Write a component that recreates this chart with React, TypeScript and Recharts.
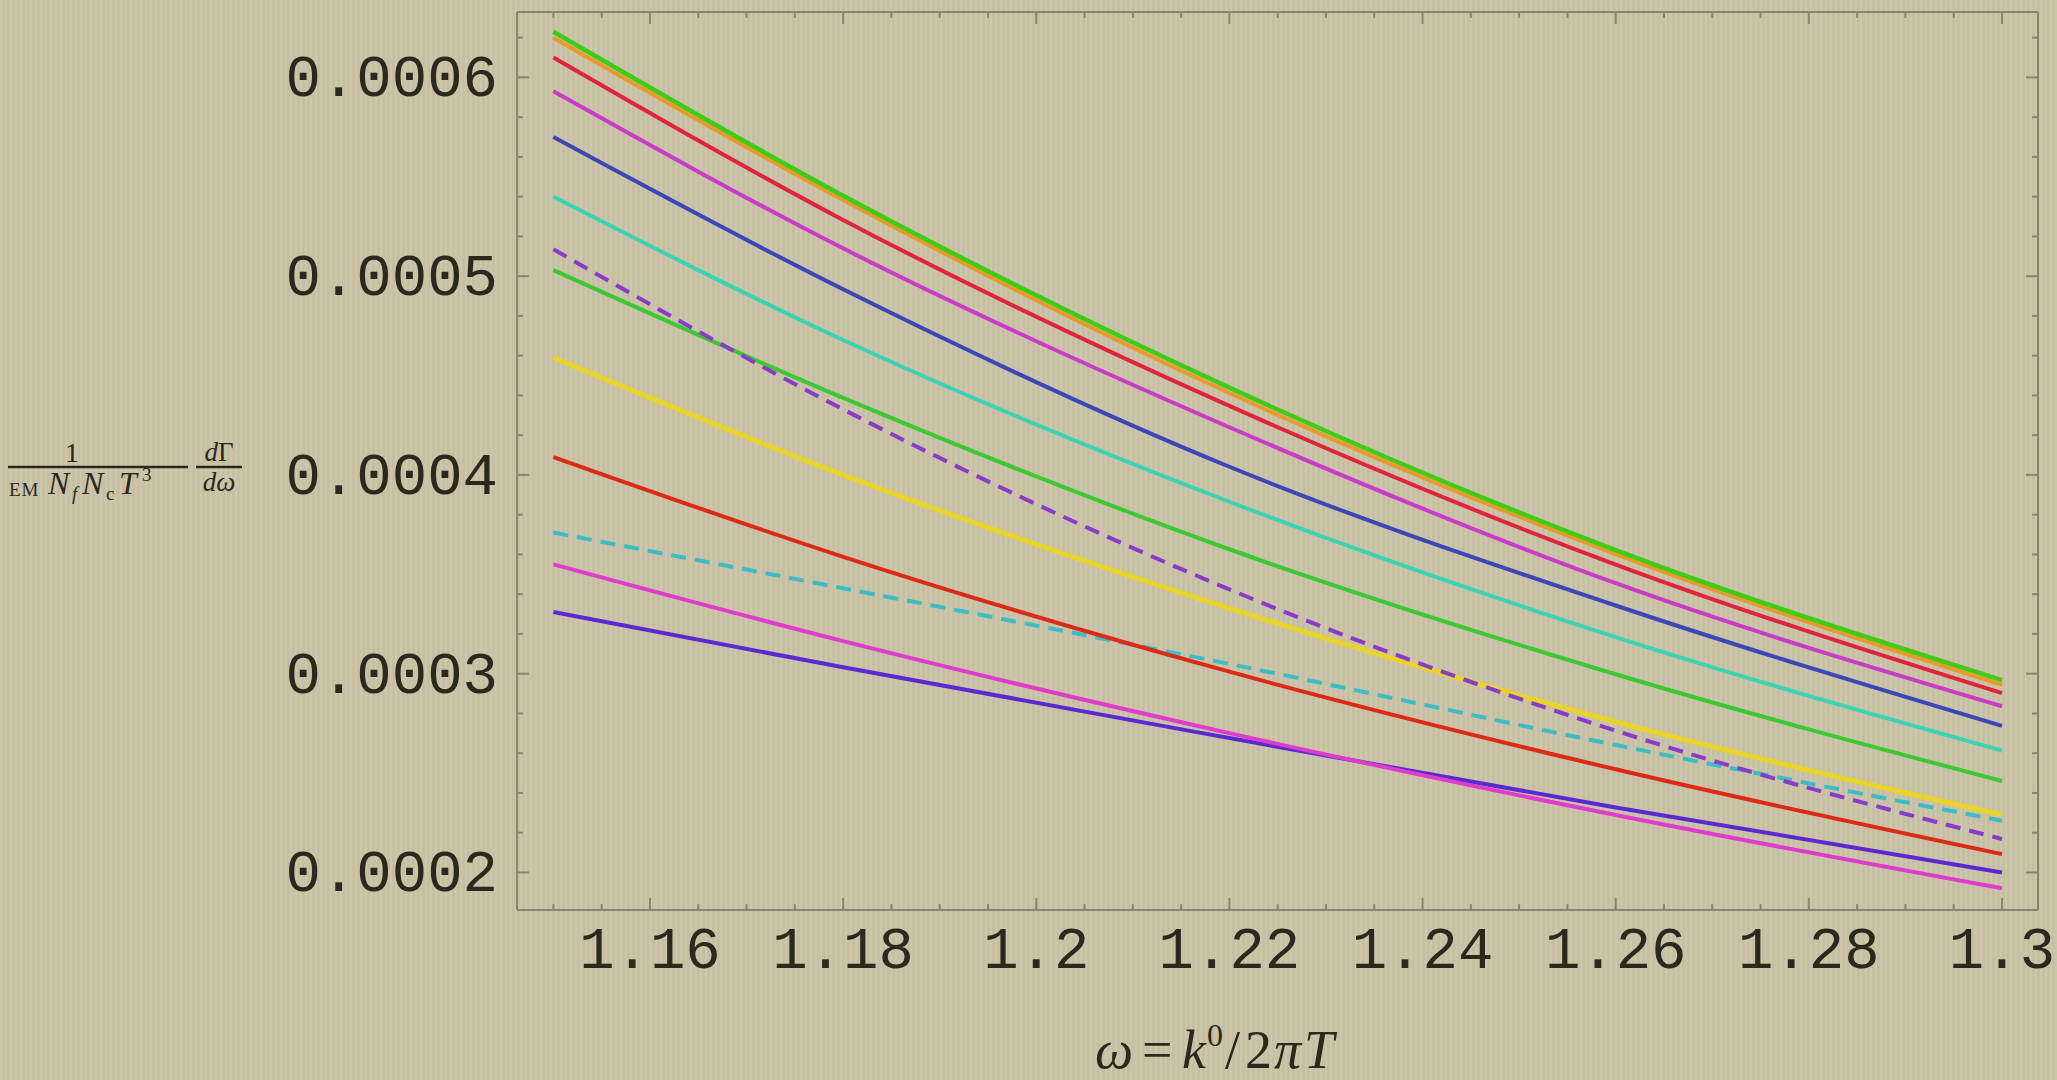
import React from 'react';
import { LineChart, Line, XAxis, YAxis } from 'recharts';

// ---- data ----
const omega = [1.15, 1.18, 1.22, 1.26, 1.3];

const greenTop = [0.000623, 0.0005405, 0.0004439, 0.0003622, 0.0002968];
const orangeTop = [0.00062, 0.0005383, 0.0004412, 0.0003602, 0.0002944];
const redTop = [0.00061, 0.0005283, 0.0004347, 0.0003549, 0.0002902];
const magentaTop = [0.000593, 0.000514, 0.000424, 0.0003455, 0.0002836];
const blueMid = [0.00057, 0.0004934, 0.0004041, 0.0003343, 0.0002737];
const turquoise = [0.00054, 0.0004679, 0.0003865, 0.0003184, 0.0002613];
const purpleDashed = [0.0005135, 0.000433, 0.0003424, 0.0002713, 0.0002168];
const greenLow = [0.000503, 0.0004388, 0.0003626, 0.0002997, 0.000246];
const yellowMid = [0.000459, 0.0004, 0.0003329, 0.0002758, 0.000229];
const redLow = [0.000409, 0.0003588, 0.000301, 0.0002519, 0.0002092];
const cyanDashed = [0.000371, 0.000343, 0.0003049, 0.0002641, 0.000226];
const magentaLow = [0.000355, 0.0003164, 0.0002701, 0.0002289, 0.000192];
const violetLow = [0.000331, 0.0003032, 0.0002676, 0.0002327, 0.0002];

const xMajor = [1.16, 1.18, 1.2, 1.22, 1.24, 1.26, 1.28, 1.3];
const xMajorLabels = ['1.16', '1.18', '1.2', '1.22', '1.24', '1.26', '1.28', '1.3'];
const xTicks = [
  1.15, 1.155, 1.16, 1.165, 1.17, 1.175, 1.18, 1.185, 1.19, 1.195, 1.2, 1.205,
  1.21, 1.215, 1.22, 1.225, 1.23, 1.235, 1.24, 1.245, 1.25, 1.255, 1.26, 1.265,
  1.27, 1.275, 1.28, 1.285, 1.29, 1.295, 1.3,
];

const yMajor = [0.0002, 0.0003, 0.0004, 0.0005, 0.0006];
const yMajorLabels = ['0.0002', '0.0003', '0.0004', '0.0005', '0.0006'];
const yTicks = [
  0.0002, 0.00022, 0.00024, 0.00026, 0.00028, 0.0003, 0.00032, 0.00034, 0.00036,
  0.00038, 0.0004, 0.00042, 0.00044, 0.00046, 0.00048, 0.0005, 0.00052, 0.00054,
  0.00056, 0.00058, 0.0006, 0.00062,
];

const series = [
  { key: 'violetLow', values: violetLow, color: '#5a2ad0', dash: undefined, w: 4 },
  { key: 'magentaLow', values: magentaLow, color: '#e03ccc', dash: undefined, w: 4 },
  { key: 'cyanDashed', values: cyanDashed, color: '#3cbcc4', dash: '15 9', w: 4 },
  { key: 'redLow', values: redLow, color: '#dc2a16', dash: undefined, w: 4 },
  { key: 'yellowMid', values: yellowMid, color: '#e8d42a', dash: undefined, w: 5 },
  { key: 'greenLow', values: greenLow, color: '#3cc832', dash: undefined, w: 4 },
  { key: 'purpleDashed', values: purpleDashed, color: '#8a3cc8', dash: '15 9', w: 4 },
  { key: 'turquoise', values: turquoise, color: '#3cd2b2', dash: undefined, w: 4 },
  { key: 'blueMid', values: blueMid, color: '#3c46b6', dash: undefined, w: 4 },
  { key: 'magentaTop', values: magentaTop, color: '#c83cc8', dash: undefined, w: 4 },
  { key: 'redTop', values: redTop, color: '#e0243c', dash: undefined, w: 4 },
  { key: 'orangeTop', values: orangeTop, color: '#e89a2a', dash: undefined, w: 4 },
  { key: 'greenTop', values: greenTop, color: '#40cc16', dash: undefined, w: 4.5 },
];

const tableData = omega.map((x, i) => {
  const row: Record<string, number> = { x };
  series.forEach((s) => {
    row[s.key] = s.values[i];
  });
  return row;
});

const FRAME = '#8a8470';
const TXT = '#2c281c';
const MONO = '"Liberation Mono", "DejaVu Sans Mono", monospace';
const SERIF = '"Liberation Serif", "DejaVu Serif", serif';

const idx = (arr: number[], v: number, tol: number) => arr.findIndex((m) => Math.abs(m - v) < tol);

const BottomTick = (props: any) => {
  const { x, y, payload } = props;
  const i = idx(xMajor, payload.value, 1e-6);
  const len = i >= 0 ? 12 : 6;
  return (
    <g>
      <line x1={x} x2={x} y1={y} y2={y - len} stroke={FRAME} strokeWidth={2} />
      {i >= 0 && (
        <text x={x} y={y + 58} textAnchor="middle" fontFamily={MONO} fontSize={59} fill={TXT}>
          {xMajorLabels[i]}
        </text>
      )}
    </g>
  );
};

const TopTick = (props: any) => {
  const { x, y, payload } = props;
  const i = idx(xMajor, payload.value, 1e-6);
  const len = i >= 0 ? 12 : 6;
  return <line x1={x} x2={x} y1={y} y2={y + len} stroke={FRAME} strokeWidth={2} />;
};

const LeftTick = (props: any) => {
  const { x, y, payload } = props;
  const i = idx(yMajor, payload.value, 1e-9);
  const len = i >= 0 ? 12 : 6;
  return (
    <g>
      <line x1={x} x2={x + len} y1={y} y2={y} stroke={FRAME} strokeWidth={2} />
      {i >= 0 && (
        <text x={x - 19} y={y + 19} textAnchor="end" fontFamily={MONO} fontSize={59} fill={TXT}>
          {yMajorLabels[i]}
        </text>
      )}
    </g>
  );
};

const RightTick = (props: any) => {
  const { x, y, payload } = props;
  const i = idx(yMajor, payload.value, 1e-9);
  const len = i >= 0 ? 12 : 6;
  return <line x1={x} x2={x - len} y1={y} y2={y} stroke={FRAME} strokeWidth={2} />;
};

const X_DOMAIN: [number, number] = [1.14623, 1.30373];
const Y_DOMAIN: [number, number] = [0.0001811, 0.0006329];

export default function App() {
  return (
    <div
      style={{
        position: 'absolute',
        left: 0,
        top: 0,
        width: 2057,
        height: 1080,
        overflow: 'hidden',
        backgroundColor: '#cbc4a8',
        backgroundImage:
          'repeating-linear-gradient(90deg, rgba(255,255,255,0.035) 0px, rgba(255,255,255,0.035) 2px, rgba(0,0,0,0.025) 2px, rgba(0,0,0,0.025) 5px)',
      }}
    >
      <LineChart width={2057} height={1080} data={tableData} margin={{ top: 0, right: 0, bottom: 0, left: 0 }}>
        <XAxis
          xAxisId="b"
          dataKey="x"
          type="number"
          orientation="bottom"
          domain={X_DOMAIN}
          allowDataOverflow
          ticks={xTicks}
          interval={0}
          height={170}
          tickSize={0}
          tickMargin={0}
          tickLine={false}
          tick={<BottomTick />}
          axisLine={{ stroke: FRAME, strokeWidth: 2 }}
        />
        <XAxis
          xAxisId="t"
          dataKey="x"
          type="number"
          orientation="top"
          domain={X_DOMAIN}
          allowDataOverflow
          ticks={xTicks}
          interval={0}
          height={12}
          tickSize={0}
          tickMargin={0}
          tickLine={false}
          tick={<TopTick />}
          axisLine={{ stroke: FRAME, strokeWidth: 2 }}
        />
        <YAxis
          yAxisId="l"
          type="number"
          orientation="left"
          domain={Y_DOMAIN}
          allowDataOverflow
          ticks={yTicks}
          interval={0}
          width={517}
          tickSize={0}
          tickMargin={0}
          tickLine={false}
          tick={<LeftTick />}
          axisLine={{ stroke: FRAME, strokeWidth: 2 }}
        />
        <YAxis
          yAxisId="r"
          type="number"
          orientation="right"
          domain={Y_DOMAIN}
          allowDataOverflow
          ticks={yTicks}
          interval={0}
          width={19}
          tickSize={0}
          tickMargin={0}
          tickLine={false}
          tick={<RightTick />}
          axisLine={{ stroke: FRAME, strokeWidth: 2 }}
        />
        {series.map((s) => (
          <Line
            key={s.key}
            xAxisId="b"
            yAxisId="l"
            dataKey={s.key}
            type="monotone"
            stroke={s.color}
            strokeWidth={s.w}
            strokeDasharray={s.dash}
            dot={false}
            activeDot={false}
            isAnimationActive={false}
          />
        ))}
      </LineChart>
      <svg
        width={2057}
        height={1080}
        style={{ position: 'absolute', left: 0, top: 0, pointerEvents: 'none' }}
      >
        {/* y-axis label: 1/(EM Nf Nc T^3) dΓ/dω */}
        <g fill={TXT} fontFamily={SERIF}>
          <text x={72} y={462} fontSize={28} textAnchor="middle">1</text>
          <line x1={8} x2={188} y1={467} y2={467} stroke={TXT} strokeWidth={2.5} />
          <text x={9} y={496} fontSize={19} letterSpacing={1}>EM</text>
          <text x={48} y={494} fontSize={32} fontStyle="italic">N</text>
          <text x={72} y={500} fontSize={19} fontStyle="italic">f</text>
          <text x={82} y={494} fontSize={32} fontStyle="italic">N</text>
          <text x={106} y={500} fontSize={19}>c</text>
          <text x={119} y={494} fontSize={32} fontStyle="italic">T</text>
          <text x={142} y={481} fontSize={19}>3</text>
          <text x={219} y={461} fontSize={27} textAnchor="middle">
            <tspan fontStyle="italic">d</tspan>Γ
          </text>
          <line x1={196} x2={242} y1={467} y2={467} stroke={TXT} strokeWidth={2.5} />
          <text x={219} y={491} fontSize={27} textAnchor="middle" fontStyle="italic">dω</text>
        </g>
        {/* x-axis label: ω = k^0/2πT */}
        <g fill={TXT} fontFamily={SERIF} fontSize={54}>
          <text y={1068}>
            <tspan x={1095} fontStyle="italic">ω</tspan>
            <tspan x={1142}>=</tspan>
            <tspan x={1182} fontStyle="italic">k</tspan>
            <tspan x={1207} dy={-22} fontSize={32}>0</tspan>
            <tspan x={1225} dy={22}>/</tspan>
            <tspan x={1245}>2</tspan>
            <tspan x={1274} fontStyle="italic">π</tspan>
            <tspan x={1304} fontStyle="italic">T</tspan>
          </text>
        </g>
      </svg>
    </div>
  );
}
